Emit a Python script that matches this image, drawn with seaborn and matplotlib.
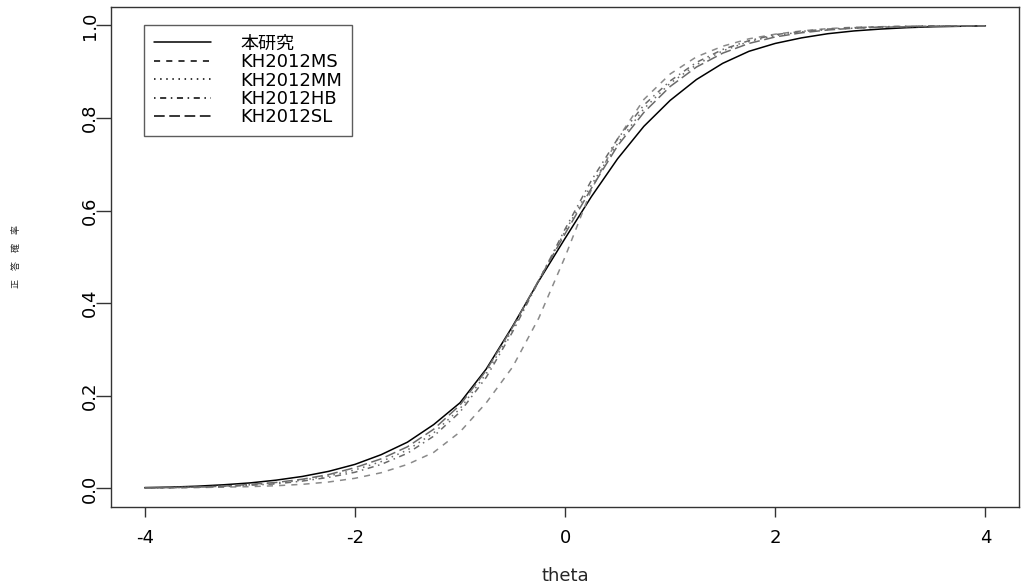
import pandas as pd
import matplotlib
matplotlib.use("Agg")
import matplotlib.pyplot as plt
import seaborn as sns
from matplotlib.lines import Line2D

# theta grid and curve values
theta = [-4.0, -3.75, -3.5, -3.25, -3.0, -2.75, -2.5, -2.25, -2.0, -1.75, -1.5,
         -1.25, -1.0, -0.75, -0.5, -0.25, 0.0, 0.25, 0.5, 0.75, 1.0, 1.25, 1.5,
         1.75, 2.0, 2.25, 2.5, 2.75, 3.0, 3.25, 3.5, 3.75, 4.0]

p_this = [0.002, 0.003, 0.005, 0.008, 0.012, 0.018, 0.026, 0.037, 0.052, 0.073, 0.100,
          0.138, 0.185, 0.258, 0.350, 0.448, 0.540, 0.630, 0.712, 0.782, 0.838, 0.883, 0.918,
          0.944, 0.961, 0.973, 0.982, 0.988, 0.992, 0.995, 0.997, 0.998, 0.999]
p_ms = [0.001, 0.001, 0.002, 0.003, 0.004, 0.006, 0.009, 0.014, 0.022, 0.034, 0.052,
        0.078, 0.122, 0.185, 0.262, 0.368, 0.500, 0.645, 0.755, 0.840, 0.895, 0.932, 0.955,
        0.971, 0.981, 0.988, 0.993, 0.996, 0.997, 0.998, 0.999, 0.999, 0.999]
p_mm = [0.001, 0.002, 0.003, 0.005, 0.008, 0.012, 0.018, 0.027, 0.040, 0.058, 0.083,
        0.120, 0.172, 0.248, 0.343, 0.450, 0.555, 0.655, 0.745, 0.820, 0.875, 0.915, 0.945,
        0.965, 0.978, 0.986, 0.991, 0.994, 0.996, 0.997, 0.998, 0.999, 0.999]
p_hb = [0.001, 0.002, 0.003, 0.004, 0.007, 0.010, 0.016, 0.024, 0.035, 0.052, 0.076,
        0.113, 0.165, 0.240, 0.338, 0.448, 0.560, 0.665, 0.755, 0.828, 0.880, 0.920, 0.948,
        0.967, 0.980, 0.987, 0.992, 0.995, 0.997, 0.998, 0.999, 0.999, 0.999]
p_sl = [0.001, 0.002, 0.003, 0.005, 0.009, 0.013, 0.020, 0.030, 0.045, 0.064, 0.090,
        0.128, 0.180, 0.255, 0.348, 0.450, 0.550, 0.648, 0.740, 0.812, 0.868, 0.910, 0.940,
        0.961, 0.975, 0.984, 0.990, 0.994, 0.996, 0.997, 0.998, 0.999, 0.999]

series = ["本研究", "KH2012MS", "KH2012MM", "KH2012HB", "KH2012SL"]
values = [p_this, p_ms, p_mm, p_hb, p_sl]

x_ticks = [-4, -2, 0, 2, 4]
y_ticks = [0.0, 0.2, 0.4, 0.6, 0.8, 1.0]
y_ticklabels = ["0.0", "0.2", "0.4", "0.6", "0.8", "1.0"]

df = pd.concat([pd.DataFrame({"theta": theta, "p": v, "model": s})
                for s, v in zip(series, values)], ignore_index=True)

sns.set_theme(style="white")
plt.rcParams["font.family"] = ["DejaVu Sans", "Noto Sans CJK JP"]
plt.rcParams["text.color"] = "black"

dashes = {
    "本研究": "",
    "KH2012MS": (4, 4),
    "KH2012MM": (1, 3),
    "KH2012HB": (1, 3, 4, 3),
    "KH2012SL": (7, 3),
}
palette = {"本研究": "black", "KH2012MS": "#8a8a8a", "KH2012MM": "#6a6a6a",
           "KH2012HB": "#6a6a6a", "KH2012SL": "#6a6a6a"}

fig = plt.figure(figsize=(10.33, 5.85), dpi=100)
ax = fig.add_axes([0.1075, 0.1333, 0.879, 0.855])

sns.lineplot(data=df, x="theta", y="p", hue="model", style="model",
             hue_order=series, style_order=series, dashes=dashes,
             palette=palette, linewidth=1.1, legend=False, ax=ax)

ax.set_xlim(-4.32, 4.32)
ax.set_ylim(-0.04, 1.04)
ax.set_xticks(x_ticks)
ax.set_xticklabels([str(t) for t in x_ticks])
ax.set_yticks(y_ticks)
ax.set_yticklabels(y_ticklabels, rotation=90, va="center")

for sp in ax.spines.values():
    sp.set_color("#333333")
    sp.set_linewidth(1.0)
ax.tick_params(axis="both", direction="out", width=1.0, color="#333333",
               labelsize=13, labelcolor="black")
ax.tick_params(axis="x", length=7, pad=9, bottom=True)
ax.tick_params(axis="y", length=10.5, pad=-1.5, left=True)

ax.set_xlabel("theta", fontsize=13, labelpad=14)
ax.set_ylabel("正\u3000答\u3000確\u3000率", fontsize=6.5, labelpad=43,
              family=["Noto Sans CJK JP", "DejaVu Sans"])

handles = [Line2D([0], [0], color="black", linewidth=1.1,
                  linestyle=(0, dashes[s]) if dashes[s] else "-") for s in series]
leg = ax.legend(handles, series, loc="upper left", bbox_to_anchor=(0.036, 0.964),
                borderaxespad=0, fontsize=13, handlelength=3.2, handletextpad=1.6,
                labelspacing=0.02, borderpad=0.55, fancybox=False, frameon=True)
leg.get_frame().set_edgecolor("#333333")
leg.get_frame().set_linewidth(1.0)

fig.savefig("out.png", dpi=100)
